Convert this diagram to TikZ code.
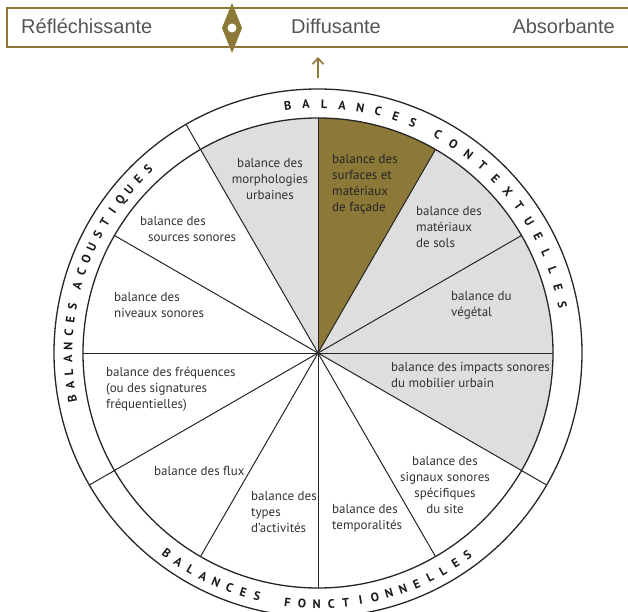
\documentclass[tikz,border=0pt]{standalone}
\usepackage{fontspec}
\setmainfont{PT Sans}
\newfontfamily\barfont{Liberation Sans}
\usetikzlibrary{arrows.meta}
\definecolor{gold}{RGB}{140,120,55}
\definecolor{sector}{RGB}{222,222,222}
\definecolor{ink}{RGB}{50,50,50}
\definecolor{bartext}{RGB}{85,85,85}
\begin{document}
\begin{tikzpicture}[x=1pt,y=1pt,
  lbl/.style={text=ink, font=\fontsize{13}{16}\selectfont, inner sep=0pt},
  ring/.style={text=black!90, font=\fontsize{12.3}{13}\selectfont\bfseries, inner sep=0pt, text height=8.6pt, text depth=0pt},
  bartxt/.style={text=bartext, font=\barfont\fontsize{20}{24}\selectfont, inner sep=0pt}]
\useasboundingbox (-318,-258) rectangle (310,353);
\coordinate (c) at (0,0);
% sectors
\fill[sector] (c) -- (-30:235) arc[start angle=-30, end angle=120, radius=235] -- cycle;
\fill[gold] (c) -- (60:235) arc[start angle=60, end angle=90, radius=235] -- cycle;
\foreach \a in {0,30,...,330}
  \draw[line width=1pt, black!85] (c) -- (\a:235);
\foreach \a in {120,-30,-150}
  \draw[line width=1pt, black!85] (\a:235) -- (\a:264);
\draw[line width=1.3pt, black!85] (c) circle[radius=235];
\draw[line width=1.3pt, black!85] (c) circle[radius=264];
% labels
\node[lbl, align=center] (morpho) at (-48,174) {balance des\\morphologies\\urbaines};
\node[lbl, align=left, anchor=west, text=black!85] (facade) at (14,169) {balance des\\surfaces et\\matériaux\\de façade};
\node[lbl, align=left, anchor=west] (sols) at (98,126) {balance des\\matériaux\\de sols};
\node[lbl, align=left, anchor=west] (vegetal) at (133,48) {balance du\\végétal};
\node[lbl, align=left, anchor=west] (mobilier) at (73,-22) {balance des impacts sonores\\du mobilier urbain};
\node[lbl, align=center] (signaux) at (127,-132) {balance des\\signaux sonores\\spécifiques\\du site};
\node[lbl, align=left, anchor=west] (tempo) at (14,-165) {balance des\\temporalités};
\node[lbl, align=left, anchor=west] (types) at (-67,-159) {balance des\\types\\d’activités};
\node[lbl, align=left, anchor=west] (flux) at (-164,-118) {balance des flux};
\node[lbl, align=left, anchor=west] (freq) at (-212,-36) {balance des fréquences\\(ou des signatures\\fréquentielles)};
\node[lbl, align=left, anchor=west] (niveaux) at (-204,48) {balance des\\niveaux sonores};
\node[lbl, align=left, anchor=west] (sources) at (-178,124) {balance des\\\hspace{8pt}sources sonores};
% ring titles
\foreach \l [count=\i, evaluate=\i as \ang using 97-(\i-1)*4.2] in {B,A,L,A,N,C,E,S}
  \node[ring, rotate=\ang-90] at (\ang:249) {\l};
\foreach \l [count=\i, evaluate=\i as \ang using 61.2-(\i-1)*4.17] in {C,O,N,T,E,X,T,U,E,L,L,E,S}
  \node[ring, rotate=\ang-90] at (\ang:249) {\l};
\foreach \l [count=\i, evaluate=\i as \ang using 190.6-(\i-1)*3.05] in {B,A,L,A,N,C,E,S}
  \node[ring, rotate=\ang-90] at (\ang:250) {\l};
\foreach \l [count=\i, evaluate=\i as \ang using 164.3-(\i-1)*3.15] in {A,C,O,U,S,T,I,Q,U,E,S}
  \node[ring, rotate=\ang-90] at (\ang:250) {\l};
\foreach \l [count=\i, evaluate=\i as \ang using -127.1+(\i-1)*3.29] in {B,A,L,A,N,C,E,S}
  \node[ring, rotate=\ang+90] at (\ang:251) {\l};
\foreach \l [count=\i, evaluate=\i as \ang using -97+(\i-1)*3.35] in {F,O,N,C,T,I,O,N,N,E,L,L,E,S}
  \node[ring, rotate=\ang+90] at (\ang:251) {\l};
% top scale
\draw[gold, line width=1.4pt] (-311,306) rectangle (330,345);
\fill[gold] (-86,350) -- (-76,325) -- (-86,300) -- (-96,325) -- cycle;
\fill[white] (-86,325) circle[radius=4.5];
\node[bartxt, anchor=base west] (refl) at (-297,319) {Réfléchissante};
\node[bartxt, anchor=base] (diff) at (18,319) {Diffusante};
\node[bartxt, anchor=base east] (abs) at (297,319) {Absorbante};
\coordinate (foot) at (0,275);
\coordinate (tip) at (0,296);
\draw[gold, line width=1.6pt, -{Straight Barb[length=6pt,width=11pt]}] (foot) -- (tip);
\end{tikzpicture}
\end{document}
